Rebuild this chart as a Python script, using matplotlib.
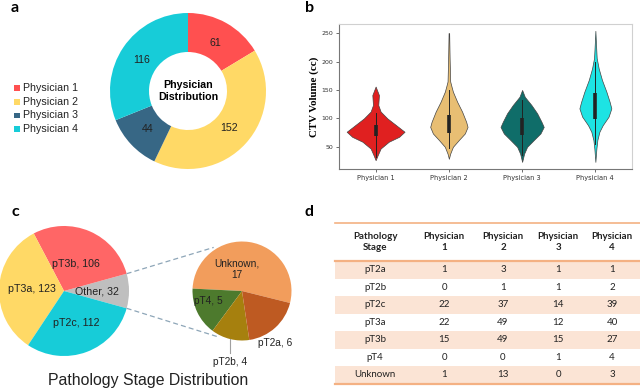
import matplotlib.pyplot as plt
import numpy as np
from matplotlib.patches import Rectangle

# panel a - physician distribution
physicians = ['Physician 1', 'Physician 2', 'Physician 3', 'Physician 4']
physician_counts = [61, 152, 44, 116]
physician_colors = ['#FF5050', '#FFD966', '#376785', '#17CCD8']

# panel b - violin outlines: ctv volume (cc) and half width
p1_vol = [156, 141, 123.5, 112, 100, 88, 76.5, 67.6, 59, 47, 35, 26.5]
p1_width = [0, 0.045, 0.036, 0.068, 0.16, 0.28, 0.395, 0.32, 0.18, 0.068, 0.027, 0]
p2_vol = [250, 206, 165, 156, 147, 129, 112, 94, 85, 73.5, 62, 50, 38, 29]
p2_width = [0.004, 0.01, 0.018, 0.036, 0.055, 0.114, 0.18, 0.236, 0.255, 0.218, 0.136, 0.055, 0.018, 0]
p3_vol = [150, 138, 123.5, 109, 94, 85, 73.5, 62, 50, 38, 23.5]
p3_width = [0, 0.036, 0.127, 0.205, 0.264, 0.295, 0.25, 0.16, 0.068, 0.027, 0]
p4_vol = [254, 229, 206, 188, 167.6, 147, 129, 117.6, 103, 88, 76.5, 62, 47, 23.5]
p4_width = [0, 0.009, 0.018, 0.045, 0.09, 0.15, 0.195, 0.218, 0.18, 0.1, 0.055, 0.027, 0.014, 0]
box_q1 = [69, 74, 71, 99]
box_q3 = [89, 106, 101, 144]
whisk_lo = [32, 48, 36, 55]
whisk_hi = [110, 150, 132, 200]
violin_colors = ['#E02020', '#E8BE73', '#0F6D69', '#1DE3E3']

# panel c - pathology stage
stage_labels = ['Other', 'pT3b', 'pT3a', 'pT2c']
stage_counts = [32, 106, 123, 112]
stage_colors = ['#BFBFBF', '#FF6666', '#FFD966', '#17CCD8']
other_labels = ['Unknown', 'pT4', 'pT2b', 'pT2a']
other_counts = [17, 5, 4, 6]
other_colors = ['#F29D5C', '#4D7A2D', '#A6800E', '#BE5A22']

# panel d - table
table_header = ['Pathology\nStage', 'Physician\n1', 'Physician\n2', 'Physician\n3', 'Physician\n4']
table_stages = ['pT2a', 'pT2b', 'pT2c', 'pT3a', 'pT3b', 'pT4', 'Unknown']
table_p1 = [1, 0, 22, 22, 15, 0, 1]
table_p2 = [3, 1, 37, 49, 49, 0, 13]
table_p3 = [1, 1, 14, 12, 15, 1, 0]
table_p4 = [1, 2, 39, 40, 27, 4, 3]

H = 392
fig = plt.figure(figsize=(6.4, 3.92), dpi=100)

# one axes over the whole figure, in pixels (y up)
ax = fig.add_axes([0, 0, 1, 1])

# ---- a ----
wedges, texts, autotexts = ax.pie(
    physician_counts, colors=physician_colors, startangle=90, counterclock=False,
    center=(188, H - 91), radius=78, wedgeprops=dict(width=39, linewidth=0),
    autopct=lambda p: '%d' % round(p * sum(physician_counts) / 100), pctdistance=0.71,
    textprops=dict(fontsize=7.7, family='Liberation Sans', color='#222222'))
ax.text(188, H - 91, 'Physician\nDistribution', ha='center', va='center', fontsize=7.7,
        fontweight='bold', family='Liberation Sans', linespacing=1.15)
for i, name in enumerate(physicians):
    y = H - (88 + i * 13.7)
    ax.add_patch(Rectangle((14, y - 2.8), 5.6, 5.6, color=physician_colors[i], lw=0))
    ax.text(23, y, name, va='center', fontsize=7.7, family='Liberation Sans', color='#222222')

# ---- c ----
big_center = (64, H - 291)
big_r = 65
wedges_c, _ = ax.pie(stage_counts, colors=stage_colors, startangle=-180 * stage_counts[0] / sum(stage_counts),
                     counterclock=True, center=big_center, radius=big_r, wedgeprops=dict(linewidth=0))
label_dist = [0.5, 0.46, 0.5, 0.52]
for w, lab, n, d in zip(wedges_c, stage_labels, stage_counts, label_dist):
    a = np.deg2rad((w.theta1 + w.theta2) / 2)
    ax.text(big_center[0] + d * big_r * np.cos(a), big_center[1] + d * big_r * np.sin(a),
            '%s, %d' % (lab, n), ha='center', va='center', fontsize=7.7, family='Liberation Sans',
            color='#222222')

small_center = (242, H - 291)
small_r = 49.5
wedges_s, _ = ax.pie(other_counts, colors=other_colors, startangle=-14, counterclock=True,
                     center=small_center, radius=small_r, wedgeprops=dict(linewidth=0))
# label spots relative to the small pie, in radii
small_spots = [(-0.1, 0.44), (-0.69, -0.2), (-0.24, -1.43), (0.67, -1.05)]
for n, lab, (dx, dy) in zip(other_counts, other_labels, small_spots):
    t = lab + (',\n' if lab == 'Unknown' else ', ') + str(n)
    ax.text(small_center[0] + dx * small_r, small_center[1] + dy * small_r, t,
            ha='center', va='center', fontsize=7.3, family='Liberation Sans', color='#222222',
            linespacing=1.1)
# leader line for pT2b
lx = small_center[0] - 0.24 * small_r
ly = small_center[1] - np.sqrt(1 - 0.24 ** 2) * small_r
ax.plot([lx, lx], [ly, ly - 14], color='#A0A0A0', lw=0.8)

# dashed connectors between the pies
half = np.deg2rad(180 * stage_counts[0] / sum(stage_counts))
for sgn, ang in [(1, 123), (-1, 241)]:
    x0 = big_center[0] + big_r * np.cos(sgn * half)
    y0 = big_center[1] + big_r * np.sin(sgn * half)
    x1 = small_center[0] + small_r * 1.05 * np.cos(np.deg2rad(ang))
    y1 = small_center[1] + small_r * 1.05 * np.sin(np.deg2rad(ang))
    ax.plot([x0, x1], [y0, y1], color='#8EA6B8', lw=0.9, ls=(0, (4, 2.5)))

ax.text(148, H - 381, 'Pathology Stage Distribution', ha='center', va='center', fontsize=11.4,
        family='Liberation Sans', color='#222222')

# ---- d ----
tab_left, tab_right = 335, 640
head_top, head_bot = 223, 261
row_h = 17.5
col_x = [375, 444, 503, 558, 612]
for i in range(len(table_stages)):
    top = head_bot + i * row_h
    if i % 2 == 0:
        ax.add_patch(Rectangle((tab_left, H - top - row_h), tab_right - tab_left, row_h,
                               color='#FBE4D5', lw=0))
    vals = [table_stages[i], table_p1[i], table_p2[i], table_p3[i], table_p4[i]]
    for x, v in zip(col_x, vals):
        ax.text(x, H - top - row_h / 2, str(v), ha='center', va='center', fontsize=7,
                family='Lato', color='#222222')
for x, t in zip(col_x, table_header):
    ax.text(x, H - (head_top + head_bot) / 2, t, ha='center', va='center', fontsize=7,
            family='Lato', fontweight='bold', color='#222222', linespacing=1.35)
bottom = head_bot + len(table_stages) * row_h
ax.plot([tab_left, tab_right], [H - head_top, H - head_top], color='#F4B183', lw=1.2)
ax.plot([tab_left, tab_right], [H - head_bot, H - head_bot], color='#F4B183', lw=1.6)
ax.plot([tab_left, tab_right], [H - bottom, H - bottom], color='#F4B183', lw=1.6)

# panel letters
for lab, x, y in [('a', 15, 8), ('b', 310, 8), ('c', 15, 212), ('d', 309, 212)]:
    ax.text(x, H - y, lab, ha='center', va='center', fontsize=11.5, fontweight='bold', family='Lato')

ax.set_xlim(0, 640)
ax.set_ylim(0, H)
ax.set_aspect('auto')
ax.axis('off')

# ---- b ----
axv = fig.add_axes([339 / 640, (H - 169) / H, 293 / 640, 145 / H])
profiles = [(p1_vol, p1_width), (p2_vol, p2_width), (p3_vol, p3_width), (p4_vol, p4_width)]
for i, (vol, wid) in enumerate(profiles):
    vol = np.array(vol)
    wid = np.array(wid)
    axv.fill_betweenx(vol, i - wid, i + wid, facecolor=violin_colors[i], edgecolor='#444444', lw=0.5)
    axv.plot([i, i], [whisk_lo[i], whisk_hi[i]], color='#222222', lw=0.7)
    axv.plot([i, i], [box_q1[i], box_q3[i]], color='#222222', lw=2.6, solid_capstyle='butt')

axv.set_xlim(-0.5, 3.5)
axv.set_ylim(11, 266)
axv.set_xticks(range(4))
axv.set_xticklabels(physicians)
axv.set_yticks([50, 100, 150, 200, 250])
axv.tick_params(axis='both', length=2, width=0.5, pad=2, colors='#333333')
axv.tick_params(axis='x', labelsize=4.8)
axv.tick_params(axis='y', labelsize=4.5)
for s in ['left', 'bottom']:
    axv.spines[s].set_color('#777777')
for s in ['top', 'right']:
    axv.spines[s].set_color('#D0D0D0')
for s in axv.spines.values():
    s.set_linewidth(0.8)
axv.set_ylabel('CTV Volume (cc)', fontsize=7.8, fontweight='bold', family='Liberation Serif', labelpad=2)

fig.savefig('out.png', dpi=100)
